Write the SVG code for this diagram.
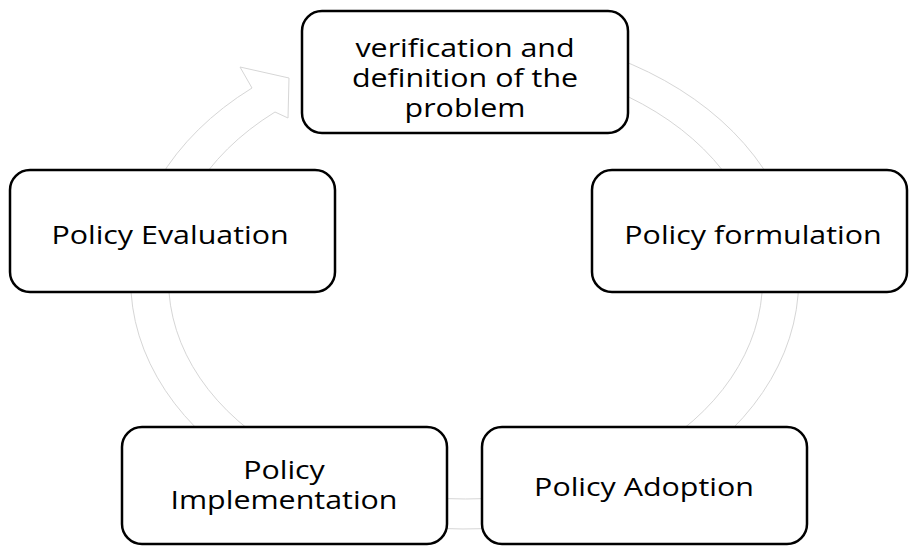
<svg xmlns="http://www.w3.org/2000/svg" width="909" height="546" viewBox="0 0 909 546">
<style>
.box{fill:#fff;stroke:#000;stroke-width:2.5}
.lbl{font-family:"Open Sans","Liberation Sans",sans-serif;font-size:26px;fill:#000;text-anchor:middle}
.ring{fill:#fff;stroke:#d6d6d6;stroke-width:1}
</style>
<rect width="909" height="546" fill="#fff"/>
<g id="connectors">
<path class="ring" d="M465,31 A334,249 0 1 1 252,88 L240,67 L289,78 L288,118 L275,112 A297,219 0 1 0 465,61 Z"/>
</g>
<g id="node-problem">
<rect class="box" x="302" y="11" width="326" height="122" rx="20"/>
<text class="lbl" transform="translate(465,57) scale(1.17,1)">verification and</text>
<text class="lbl" transform="translate(465,87) scale(1.17,1)">definition of the</text>
<text class="lbl" transform="translate(465,117) scale(1.17,1)">problem</text>
</g>
<g id="node-formulation">
<rect class="box" x="592" y="170" width="315" height="122" rx="20"/>
<text class="lbl" transform="translate(753,244) scale(1.17,1)">Policy formulation</text>
</g>
<g id="node-adoption">
<rect class="box" x="482" y="427" width="325" height="117" rx="20"/>
<text class="lbl" transform="translate(644,496) scale(1.17,1)">Policy Adoption</text>
</g>
<g id="node-implementation">
<rect class="box" x="122" y="427" width="325" height="117" rx="20"/>
<text class="lbl" transform="translate(284,479) scale(1.17,1)">Policy</text>
<text class="lbl" transform="translate(284,509) scale(1.17,1)">Implementation</text>
</g>
<g id="node-evaluation">
<rect class="box" x="10" y="170" width="325" height="122" rx="20"/>
<text class="lbl" transform="translate(170,244) scale(1.17,1)">Policy Evaluation</text>
</g>
</svg>
